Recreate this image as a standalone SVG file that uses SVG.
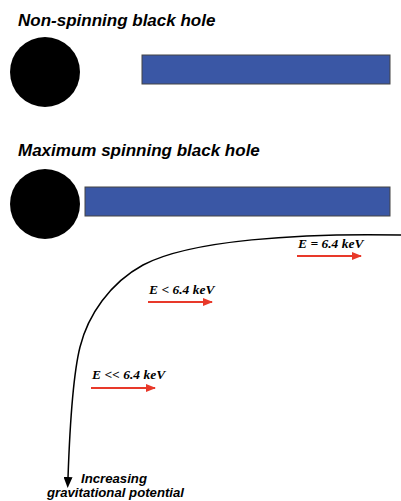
<svg xmlns="http://www.w3.org/2000/svg" width="401" height="501" viewBox="0 0 401 501">
<defs>
<style>
.title{font-family:"Liberation Sans",Arial,sans-serif;font-weight:bold;font-style:italic;font-size:17px;fill:#000}
.lbl{font-family:"Liberation Serif","Times New Roman",serif;font-weight:bold;font-style:italic;font-size:13.5px;fill:#000}
.pot{font-family:"Liberation Sans",Arial,sans-serif;font-weight:bold;font-style:italic;font-size:13.2px;fill:#000}
.hole{fill:#000}
.disk{fill:#3A57A5;stroke:#444;stroke-width:1}
.red{stroke:#E8392A;stroke-width:2;fill:none}
</style>
<marker id="ra" markerWidth="10" markerHeight="8" refX="9" refY="4" orient="auto" markerUnits="userSpaceOnUse">
<path d="M0,0 L10,4 L0,8 Z" fill="#E8392A"/>
</marker>
<marker id="ba" markerWidth="11" markerHeight="9" refX="1" refY="4.5" orient="auto" markerUnits="userSpaceOnUse">
<path d="M0,0 L11,4.5 L0,9 Z" fill="#000"/>
</marker>
</defs>
<g id="title1"><text class="title" x="18" y="26">Non-spinning black hole</text></g>
<g id="hole1"><circle class="hole" cx="45" cy="72" r="35"/></g>
<g id="disk1"><rect class="disk" x="142" y="55" width="248" height="29"/></g>
<g id="title2"><text class="title" x="18" y="156">Maximum spinning black hole</text></g>
<g id="hole2"><circle class="hole" cx="45" cy="204" r="35"/></g>
<g id="disk2"><rect class="disk" x="85" y="187" width="305" height="29"/></g>
<g id="connectors">
<path d="M401,235 C300,233 190,240 143,265 C110,283 88,315 80,347 C73,375 70,420 68,478" fill="none" stroke="#000" stroke-width="1.5" marker-end="url(#ba)"/>
<line class="red" x1="297" y1="256" x2="361" y2="256" marker-end="url(#ra)"/>
<line class="red" x1="148" y1="302" x2="212" y2="302" marker-end="url(#ra)"/>
<line class="red" x1="91" y1="388" x2="155" y2="388" marker-end="url(#ra)"/>
</g>
<g id="label1"><text class="lbl" x="298" y="248">E = 6.4 keV</text></g>
<g id="label2"><text class="lbl" x="149" y="294">E &lt; 6.4 keV</text></g>
<g id="label3"><text class="lbl" x="92" y="379">E &lt;&lt; 6.4 keV</text></g>
<g id="potential">
<text class="pot" x="81" y="483">Increasing</text>
<text class="pot" x="47" y="497">gravitational potential</text>
</g>
</svg>
